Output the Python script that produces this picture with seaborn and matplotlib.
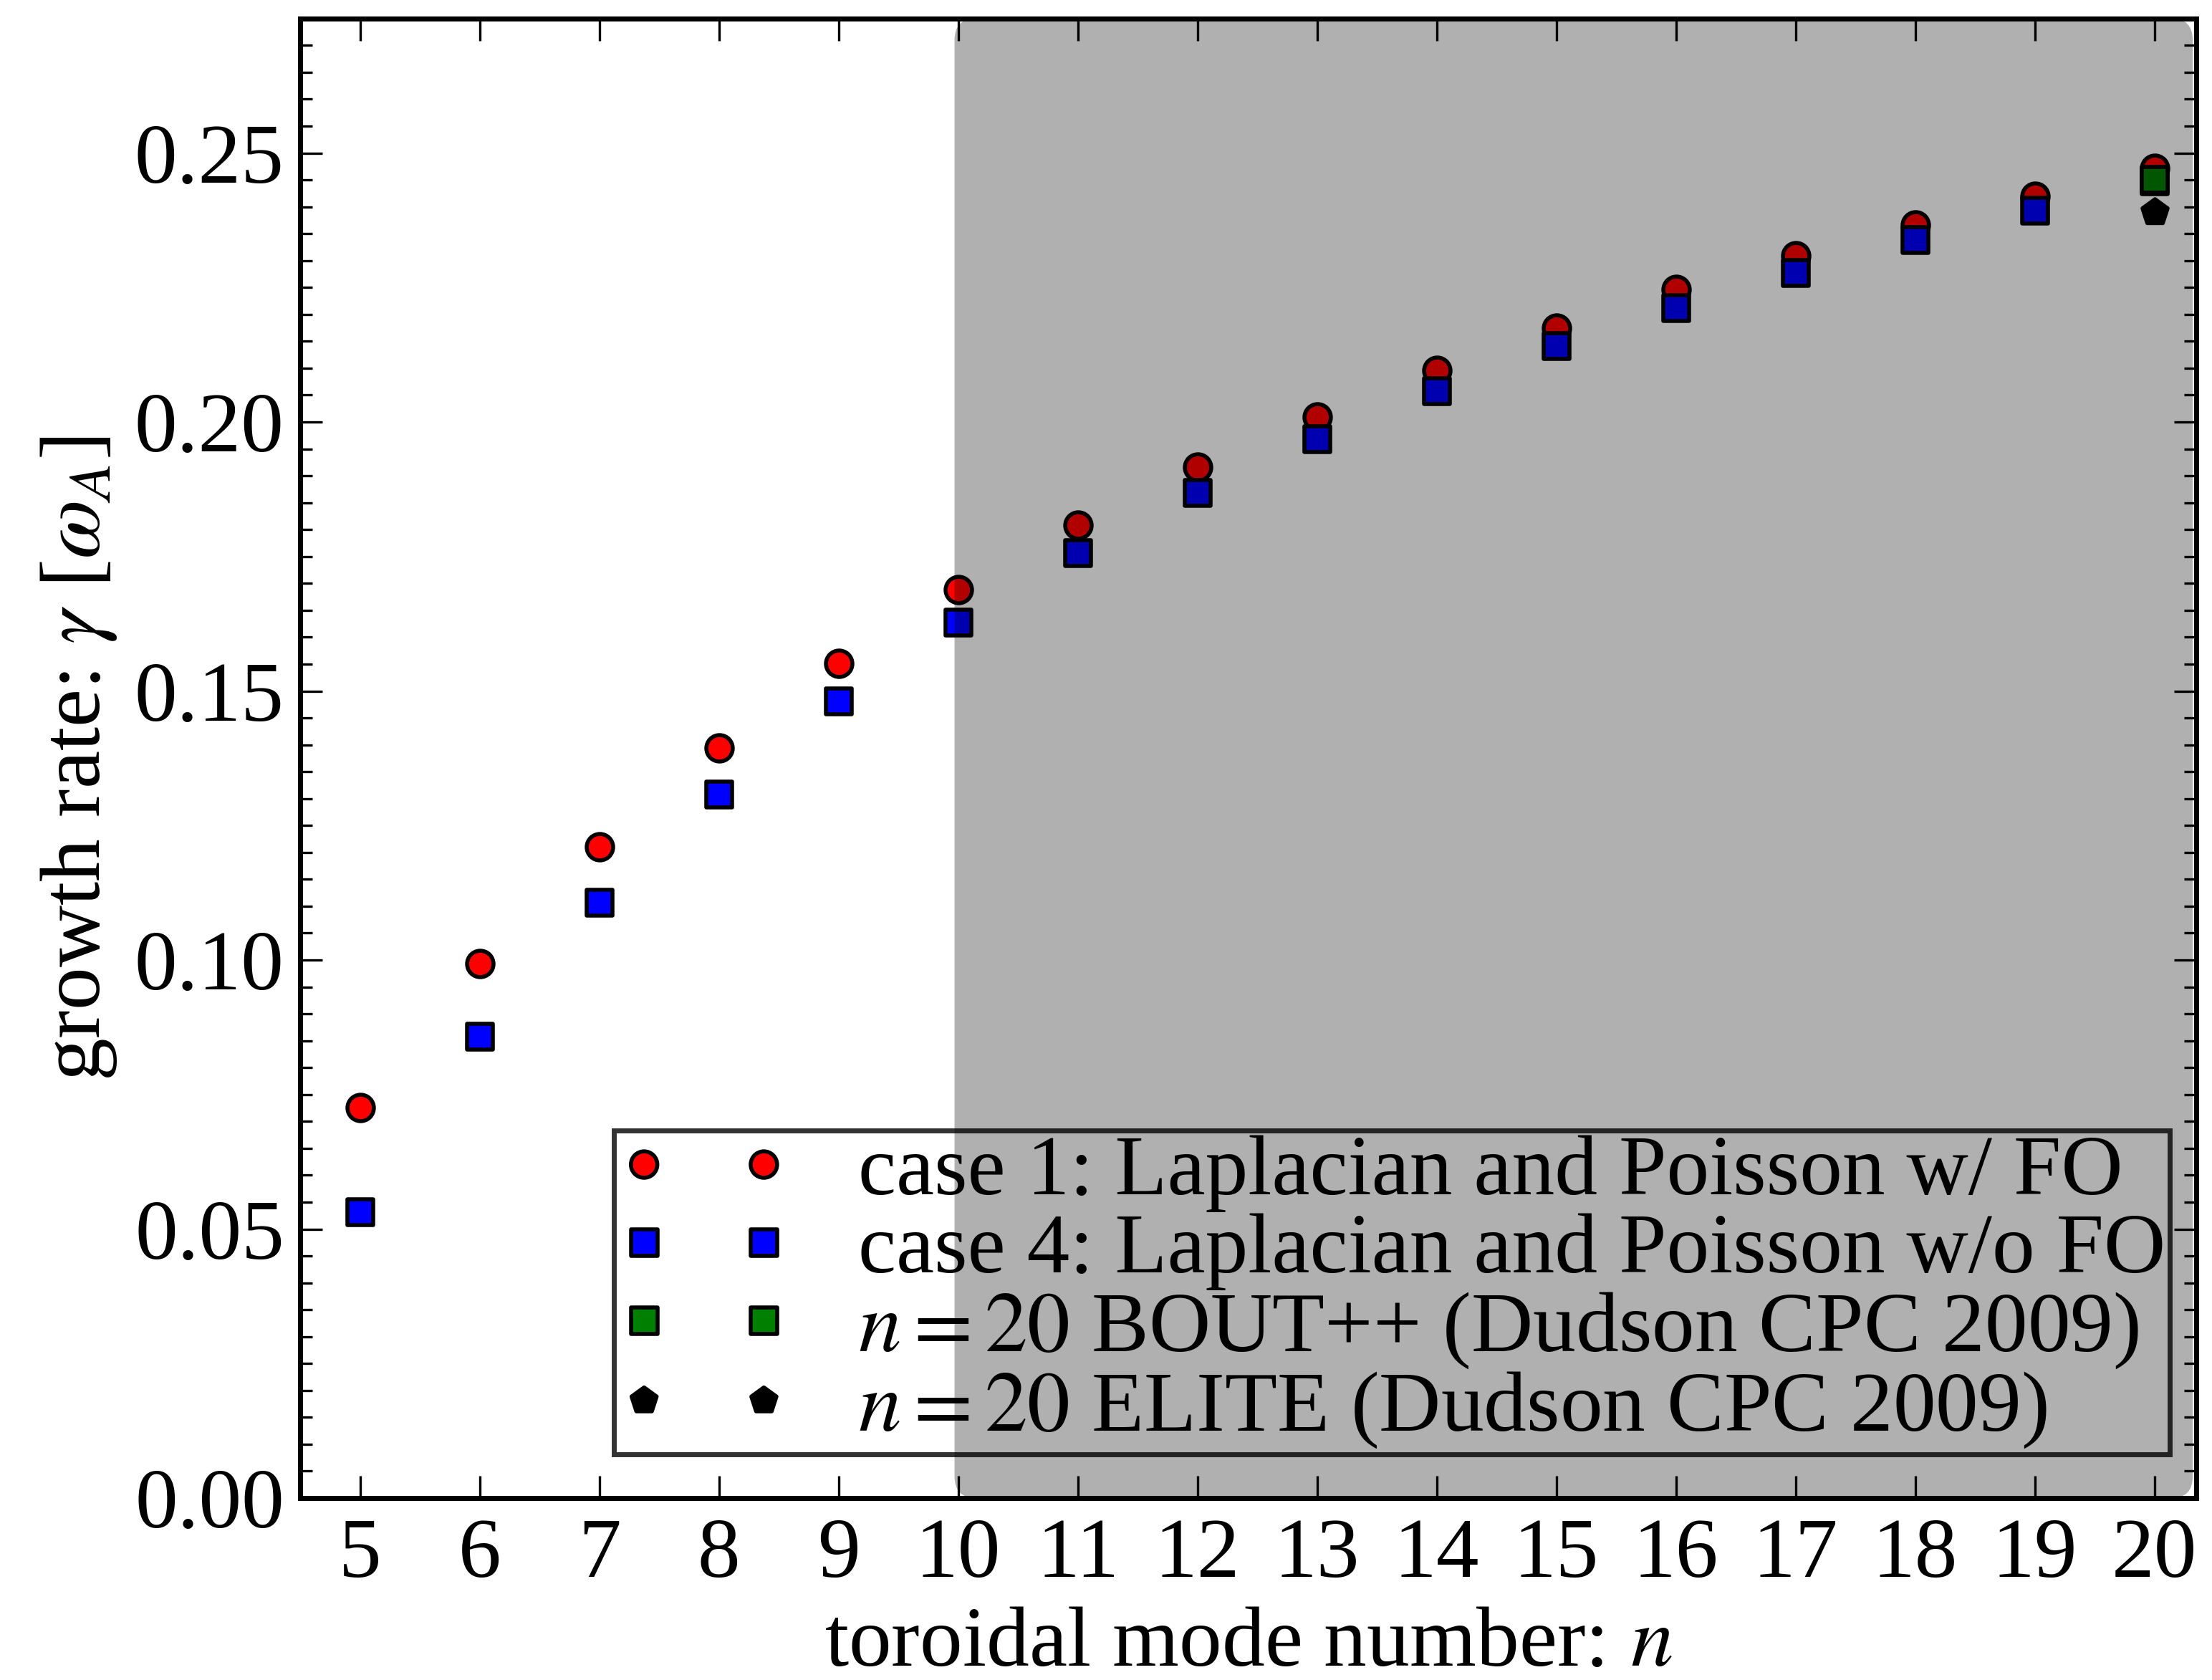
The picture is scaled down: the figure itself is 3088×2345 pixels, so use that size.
import numpy as np
import pandas as pd
import seaborn as sns
import matplotlib.pyplot as plt
from matplotlib.patches import FancyBboxPatch
from matplotlib.ticker import MultipleLocator

# toroidal mode numbers and growth rates
n_modes = [5, 6, 7, 8, 9, 10, 11, 12, 13, 14, 15, 16, 17, 18, 19, 20]
gamma_case1 = [0.0726, 0.0993, 0.1211, 0.1394, 0.1551, 0.1688, 0.1808, 0.1916,
               0.2010, 0.2096, 0.2175, 0.2246, 0.2309, 0.2366, 0.2419, 0.2471]
gamma_case4 = [0.0532, 0.0857, 0.1106, 0.1308, 0.1481, 0.1627, 0.1756, 0.1868,
               0.1968, 0.2057, 0.2141, 0.2212, 0.2277, 0.2338, 0.2393, 0.2448]
n_bout = [20]
gamma_bout = [0.2450]
n_elite = [20]
gamma_elite = [0.2390]

labels = ["case 1: Laplacian and Poisson w/ FO",
          "case 4: Laplacian and Poisson w/o FO",
          r"$n = 20$ BOUT++ (Dudson CPC 2009)",
          r"$n = 20$ ELITE (Dudson CPC 2009)"]
shade_range = [9.97, 20.32]   # shaded region along n

sns.set_style("ticks")
plt.rcParams['font.family'] = ['Liberation Serif', 'DejaVu Serif']
plt.rcParams['mathtext.fontset'] = 'stix'
plt.rcParams['font.size'] = 21.5
for key in ['text.color', 'axes.labelcolor', 'xtick.color', 'ytick.color', 'axes.edgecolor']:
    plt.rcParams[key] = 'black'
plt.rcParams['xtick.direction'] = 'in'
plt.rcParams['ytick.direction'] = 'in'
plt.rcParams['xtick.top'] = True
plt.rcParams['ytick.right'] = True
plt.rcParams['axes.linewidth'] = 1.25

df1 = pd.DataFrame({"n": n_modes, "gamma": gamma_case1})
df4 = pd.DataFrame({"n": n_modes, "gamma": gamma_case4})
dfb = pd.DataFrame({"n": n_bout, "gamma": gamma_bout})
dfe = pd.DataFrame({"n": n_elite, "gamma": gamma_elite})

fig, ax = plt.subplots(figsize=(7.72, 5.8625), dpi=400)
fig.subplots_adjust(left=0.1357, right=0.9929, bottom=0.1083, top=0.989)

ms = 44
sns.scatterplot(data=df1, x="n", y="gamma", marker="o", color="#ff0000", s=ms,
                edgecolor="k", linewidth=1.0, label=labels[0], ax=ax)
sns.scatterplot(data=df4, x="n", y="gamma", marker="s", color="#0000ff", s=ms,
                edgecolor="k", linewidth=1.0, label=labels[1], ax=ax)
sns.scatterplot(data=dfb, x="n", y="gamma", marker="s", color="#007f00", s=ms,
                edgecolor="k", linewidth=1.0, label=labels[2], ax=ax)
sns.scatterplot(data=dfe, x="n", y="gamma", marker="p", color="k", s=ms,
                edgecolor="k", linewidth=1.0, label=labels[3], ax=ax)

ax.set_xlim(4.5, 20.35)
ax.set_ylim(0, 0.275)
ax.set_xticks(n_modes)
ax.yaxis.set_major_locator(MultipleLocator(0.05))
ax.yaxis.set_minor_locator(MultipleLocator(0.005))
ax.yaxis.set_major_formatter(plt.FormatStrFormatter('%.2f'))
ax.tick_params(which='major', length=5.5, width=0.6, labelsize=21.5)
ax.tick_params(axis='x', which='major', pad=5)
ax.tick_params(axis='y', which='major', pad=4)
ax.tick_params(which='minor', length=3, width=0.6)
ax.tick_params(axis='x', which='minor', bottom=False, top=False)

# shaded region on top of the points
ymin, ymax = ax.get_ylim()
box = FancyBboxPatch((shade_range[0], ymin), shade_range[1] - shade_range[0], ymax - ymin,
                     boxstyle="round,pad=0,rounding_size=0.18", mutation_aspect=0.0222,
                     facecolor="k", edgecolor="none", alpha=0.31, zorder=3)
ax.add_patch(box)

ax.set_xlabel(r"toroidal mode number: $n$", fontsize=21.5, labelpad=3)
ax.set_ylabel(r"growth rate: $\gamma$ [$\omega_A$]", fontsize=21.5, labelpad=4)

leg = ax.legend(loc="lower right", bbox_to_anchor=(0.986, 0.0295), borderaxespad=0,
                scatterpoints=2, scatteryoffsets=[0.5], handlelength=2.0,
                handletextpad=0.8, borderpad=0.05, labelspacing=0.0,
                fontsize=21.5, fancybox=False, frameon=True)
leg.get_frame().set_facecolor("none")
leg.get_frame().set_edgecolor("k")
leg.get_frame().set_linewidth(1.25)
leg.set_zorder(5)

plt.savefig("out.png", dpi=400)
